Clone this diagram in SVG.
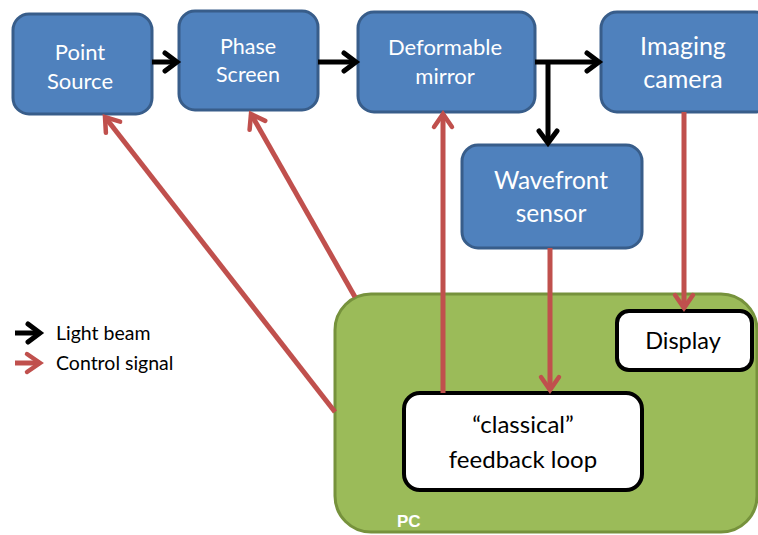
<svg xmlns="http://www.w3.org/2000/svg" width="758" height="535" viewBox="0 0 758 535">
<defs>
<marker id="ab" markerUnits="userSpaceOnUse" viewBox="-14 -11 16 22" refX="0" refY="0" markerWidth="16" markerHeight="22" orient="auto" overflow="visible">
<path d="M-12,-9 L0,0 L-12,9" fill="none" stroke="#000" stroke-width="5" stroke-linecap="round" stroke-linejoin="miter"/>
</marker>
<marker id="ar" markerUnits="userSpaceOnUse" viewBox="-14 -11 16 22" refX="0" refY="0" markerWidth="16" markerHeight="22" orient="auto" overflow="visible">
<path d="M-13,-9 L0,0 L-13,9" fill="none" stroke="#C0504D" stroke-width="4.5" stroke-linecap="round" stroke-linejoin="miter"/>
</marker>
</defs>
<style>
.blue rect{fill:#4F81BD;stroke:#385D8A;stroke-width:3}
.blue text{fill:#fff;font-family:Lato,"Open Sans",sans-serif;font-size:22px;text-anchor:middle}
.white rect{fill:#fff;stroke:#000;stroke-width:4}
.white text{fill:#000;font-family:Lato,"Open Sans",sans-serif;font-size:24px;text-anchor:middle}
.lb{stroke:#000;stroke-width:5;fill:none;marker-end:url(#ab)}
.lr{stroke:#C0504D;stroke-width:5;fill:none;marker-end:url(#ar)}
.leg{font-family:Lato,"Open Sans",sans-serif;font-size:19.5px;fill:#000}
</style>
<rect width="758" height="535" fill="#fff"/>
<g id="pc">
<rect x="335" y="294" width="422" height="238" rx="36" fill="#9BBB59" stroke="#76923C" stroke-width="3"/>
<text x="397" y="527" font-family="Liberation Sans,sans-serif" font-size="17" font-weight="bold" fill="#fff">PC</text>
</g>
<g id="point-source" class="blue">
<rect x="13" y="14" width="139" height="100" rx="16"/>
<text x="80" y="60">Point</text>
<text x="80" y="89">Source</text>
</g>
<g id="phase-screen" class="blue">
<rect x="179" y="11" width="139" height="99" rx="16"/>
<text x="248" y="54" style="font-size:21.5px">Phase</text>
<text x="248" y="82" style="font-size:21.5px">Screen</text>
</g>
<g id="deformable-mirror" class="blue">
<rect x="358" y="12" width="177" height="100" rx="16"/>
<text x="445" y="55">Deformable</text>
<text x="445" y="84">mirror</text>
</g>
<g id="imaging-camera" class="blue">
<rect x="601" y="12" width="170" height="100" rx="16"/>
<text x="683" y="55" style="font-size:25px">Imaging</text>
<text x="683" y="88" style="font-size:25px">camera</text>
</g>
<g id="wavefront-sensor" class="blue">
<rect x="462" y="145" width="180" height="103" rx="16"/>
<text x="551" y="189" style="font-size:24.5px">Wavefront</text>
<text x="551" y="222" style="font-size:24.5px">sensor</text>
</g>
<g id="display" class="white">
<rect x="617" y="311" width="135" height="59" rx="12"/>
<text x="683" y="349" style="font-size:23.5px">Display</text>
</g>
<g id="feedback-loop" class="white">
<rect x="404" y="393" width="238" height="97" rx="16"/>
<text x="523" y="433">“classical”</text>
<text x="523" y="468">feedback loop</text>
</g>
<g id="connectors">
<path class="lb" d="M152,62 L177,62"/>
<path class="lb" d="M318,62 L356,62"/>
<path class="lb" d="M535,62 L599,62"/>
<path class="lb" d="M548,62 L548,143"/>
<path class="lr" d="M335,412 L105,117"/>
<path class="lr" d="M355,297 L251,114"/>
<path class="lr" d="M443,393 L443,114"/>
<path class="lr" d="M550,248 L550,390"/>
<path class="lr" d="M684,112 L684,308"/>
</g>
<g id="legend">
<path class="lb" d="M15,333 L40,333"/>
<path class="lr" d="M15,363 L40,363"/>
<text class="leg" x="56" y="340">Light beam</text>
<text class="leg" x="56" y="370">Control signal</text>
</g>
</svg>
